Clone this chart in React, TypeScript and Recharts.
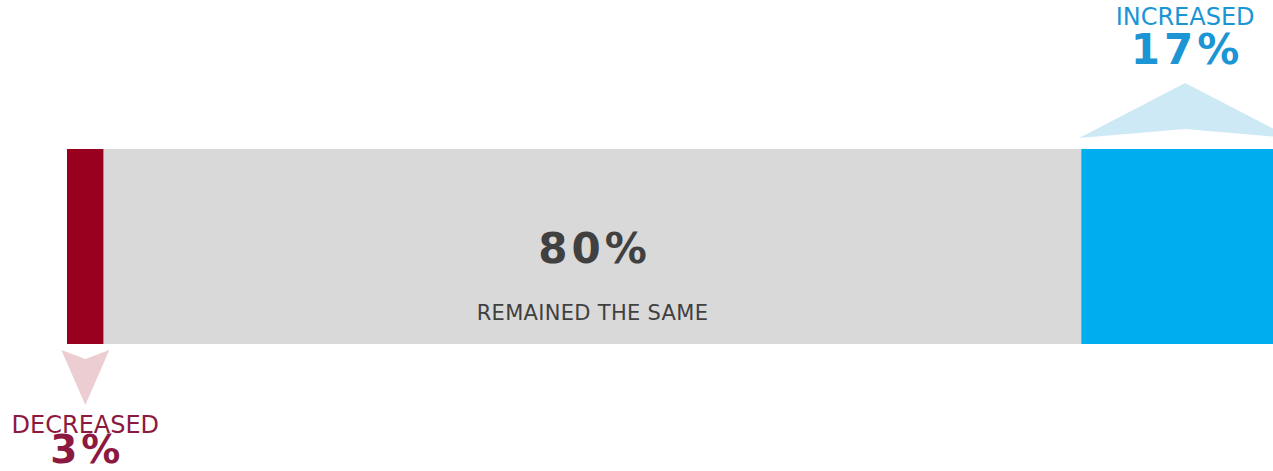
import { BarChart, Bar, XAxis, YAxis } from "recharts";

const categories = ["Change"];
const decreased = [3];
const remained = [80];
const increased = [17];

const data = categories.map((name, i) => ({
  name,
  decreased: decreased[i],
  remained: remained[i],
  increased: increased[i],
}));

const FONT = "Verdana, 'DejaVu Sans', sans-serif";

function DecreasedShape(props: any) {
  const { x, y, width, height, value } = props;
  const cx = x + width / 2;
  const top = y + height + 6;
  return (
    <g>
      <rect x={x} y={y} width={width} height={height} fill="#990020" />
      <polygon
        points={`${cx - 24},${top} ${cx},${top + 9} ${cx + 24},${top} ${cx},${top + 55}`}
        fill="#ebcdd2"
      />
      <text x={cx} y={y + height + 89} textAnchor="middle" fontFamily={FONT} fontSize={24} fill="#8c1a40">
        DECREASED
      </text>
      <text x={cx + 2} y={y + height + 119} textAnchor="middle" fontFamily={FONT} fontSize={39} fontWeight="bold" letterSpacing={4} fill="#8c1a40">
        {`${value[1] - value[0]}%`}
      </text>
    </g>
  );
}

function RemainedShape(props: any) {
  const { x, y, width, height, value } = props;
  const cx = x + width / 2;
  return (
    <g>
      <rect x={x} y={y} width={width} height={height} fill="#d9d9d9" />
      <text x={cx + 2} y={y + 114} textAnchor="middle" fontFamily={FONT} fontSize={42} fontWeight="bold" letterSpacing={4} fill="#404040">
        {`${value[1] - value[0]}%`}
      </text>
      <text x={cx} y={y + 171} textAnchor="middle" fontFamily={FONT} fontSize={21} letterSpacing={0.3} fill="#404040">
        REMAINED THE SAME
      </text>
    </g>
  );
}

function IncreasedShape(props: any) {
  const { x, y, width, height, value } = props;
  const cx = x + width / 2;
  const base = y - 11;
  return (
    <g>
      <rect x={x} y={y} width={width} height={height} fill="#00aeef" />
      <polygon
        points={`${cx - 106},${base} ${cx},${base - 55} ${cx + 106},${base} ${cx},${base - 9}`}
        fill="#cde9f5"
      />
      <text x={cx} y={25} textAnchor="middle" fontFamily={FONT} fontSize={24} fill="#1b95d4">
        INCREASED
      </text>
      <text x={cx + 2} y={64} textAnchor="middle" fontFamily={FONT} fontSize={42} fontWeight="bold" letterSpacing={4} fill="#1b95d4">
        {`${value[1] - value[0]}%`}
      </text>
    </g>
  );
}

export default function App() {
  return (
    <div
      style={{
        position: "fixed",
        top: 0,
        left: 0,
        width: 1273,
        height: 471,
        overflow: "hidden",
        background: "#fff",
      }}
    >
      <BarChart
        width={1300}
        height={471}
        data={data}
        layout="vertical"
        margin={{ top: 149, bottom: 127, left: 67, right: 11 }}
        barCategoryGap={0}
      >
        <XAxis type="number" domain={[0, 100]} hide />
        <YAxis type="category" dataKey="name" hide />
        <Bar dataKey="decreased" stackId="a" shape={DecreasedShape} isAnimationActive={false} />
        <Bar dataKey="remained" stackId="a" shape={RemainedShape} isAnimationActive={false} />
        <Bar dataKey="increased" stackId="a" shape={IncreasedShape} isAnimationActive={false} />
      </BarChart>
    </div>
  );
}
